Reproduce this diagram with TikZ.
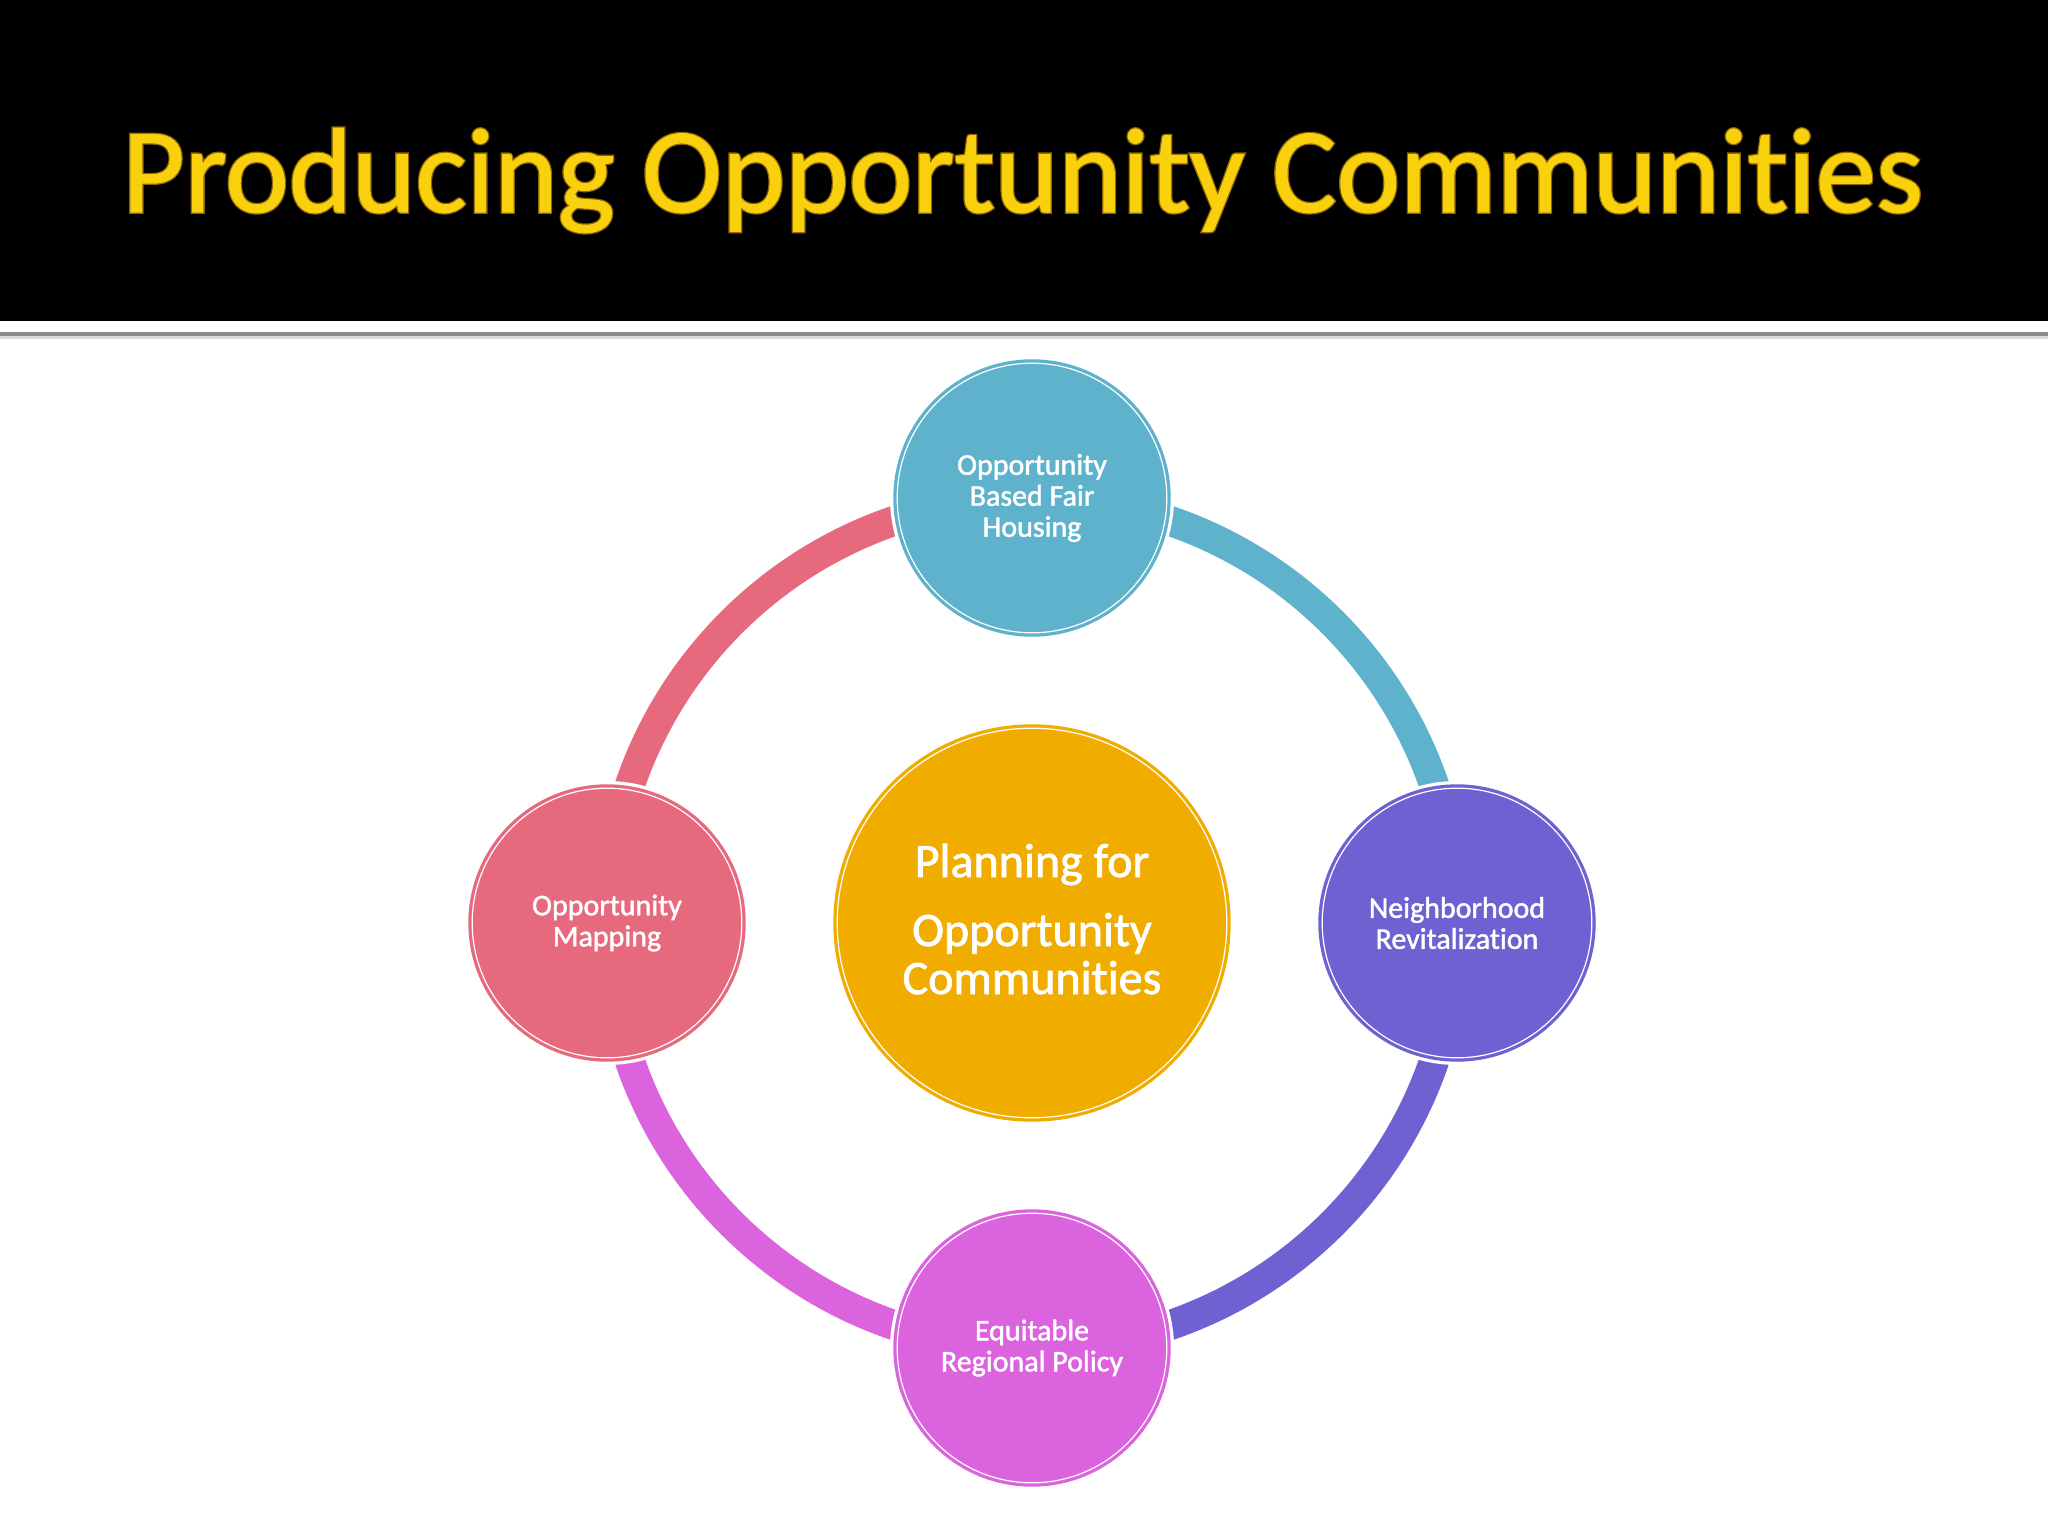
\documentclass[tikz,border=0pt]{standalone}
\usepackage{fontspec}
\setmainfont{Carlito}[Ligatures=NoCommon, FakeBold=1.5]
\newfontfamily\titlefont{Carlito}[Ligatures=NoCommon, FakeBold=0.9]
\newfontfamily\titleedgefont{Carlito}[Ligatures=NoCommon, FakeBold=3]
\definecolor{cblue}{RGB}{95,178,203}
\definecolor{cpink}{RGB}{231,105,125}
\definecolor{cpurple}{RGB}{110,98,210}
\definecolor{cmag}{RGB}{219,100,222}
\definecolor{corange}{RGB}{240,173,0}
\definecolor{ctitle}{RGB}{248,208,12}
\definecolor{ctitleedge}{RGB}{140,100,0}
\begin{document}
\begin{tikzpicture}[x=0.5pt,y=-0.5pt,
  bubble/.style={circle, inner sep=0pt, minimum size=138pt, text=white,
    font=\fontsize{15}{15.5}\selectfont, align=center,
    fill=#1, draw=#1, line width=0.7pt,
    preaction={draw=white, line width=4pt},
    path picture={\draw[white, line width=0.6pt] (path picture bounding box.center) circle[radius=67.4pt];}},
  hub/.style={circle, inner sep=0pt, minimum size=198pt,
    fill=#1, draw=#1, line width=0.7pt,
    path picture={\draw[white, line width=0.6pt] (path picture bounding box.center) circle[radius=97.4pt];}},
  hubtext/.style={inner sep=0pt, text=white, font=\fontsize{24}{24}\selectfont, align=center},
  ringarc/.style={draw=#1, line width=15pt},
  titletext/.style={inner sep=0pt, anchor=base}
]
\useasboundingbox (0,0) rectangle (2048,1536);
\fill[white] (0,0) rectangle (2048,1536);
% header
\fill[black] (0,0) rectangle (2048,321);
\fill[black!45] (0,332) rectangle (2048,335.5);
\fill[black!15] (0,335.5) rectangle (2048,338.5);
\node[titletext, text=ctitleedge, font=\titleedgefont\fontsize{60.4}{60}\selectfont] (titleedge) at (1023,212) {Producing Opportunity Communities};
\node[titletext, text=ctitle, font=\titlefont\fontsize{60.4}{60}\selectfont] (title) at (1023,212) {Producing Opportunity Communities};

% ring centre
\coordinate (c) at (1032,923);
\coordinate (top) at (1032,498);
\coordinate (left) at (607,923);
\coordinate (right) at (1457,923);
\coordinate (bottom) at (1032,1348);

% ring arcs (behind circles)
\draw[ringarc=cpink] (top) arc[start angle=90, end angle=180, radius=212.5pt];
\draw[ringarc=cblue] (right) arc[start angle=0, end angle=90, radius=212.5pt];
\draw[ringarc=cpurple] (bottom) arc[start angle=270, end angle=360, radius=212.5pt];
\draw[ringarc=cmag] (left) arc[start angle=180, end angle=270, radius=212.5pt];

% circles over arcs
\node[bubble=cblue] (topc) at (top) {Opportunity\\Based Fair\\Housing};
\node[bubble=cpink] (leftc) at (left) {Opportunity\\Mapping};
\node[bubble=cpurple] (rightc) at (right) {Neighborhood\\Revitalization};
\node[bubble=cmag] (bottomc) at (bottom) {Equitable\\Regional Policy};

\node[hub=corange] (hub) at (c) {};
\node[hubtext] (hubtxt) at ([yshift=2pt]hub.center) {Planning for\\[10.5pt]Opportunity\\Communities};
\end{tikzpicture}
\end{document}
